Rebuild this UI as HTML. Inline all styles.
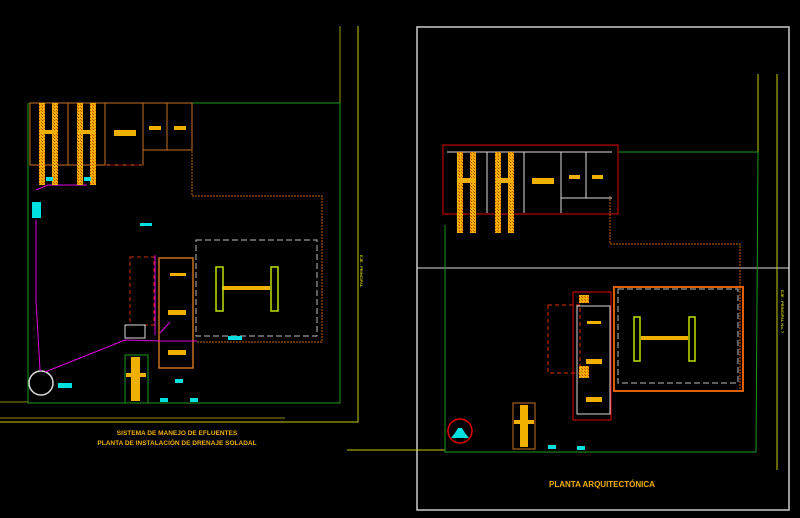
<!DOCTYPE html>
<html><head><meta charset="utf-8"><style>
html,body{margin:0;padding:0;background:#000;width:800px;height:518px;overflow:hidden}
svg{display:block}
text{font-family:"Liberation Sans",sans-serif;font-weight:bold}
</style></head><body>
<svg width="800" height="518" viewBox="0 0 800 518" xmlns="http://www.w3.org/2000/svg">
<defs>
<pattern id="hat" width="3" height="3" patternUnits="userSpaceOnUse">
<rect width="3" height="3" fill="#f0b000"/><rect width="1" height="1" fill="#c84000"/><rect x="2" y="2" width="1" height="1" fill="#d06000"/>
</pattern>
</defs>
<rect width="800" height="518" fill="#000"/>
<!-- LEFT DRAWING -->
<g fill="none" stroke-width="1">
<polyline points="340,26 340,103" stroke="#9a9a00"/>
<polyline points="358,26 358,422 0,422" stroke="#c8c800"/>
<polyline points="0,402 28,402" stroke="#8a8a00"/>
<polyline points="0,418 285,418" stroke="#8a8a00"/>
<polyline points="29,103 340,103 340,403 28,403 28,103" stroke="#1a9a1a"/>
<polyline points="192,103 192,196 322,196 322,342 197,342" stroke="#c86400" stroke-dasharray="2,1"/>
<rect x="196" y="240" width="121" height="96" stroke="#bbb" stroke-dasharray="6,3"/>
<rect x="105" y="103" width="38" height="62" stroke="#c87020"/>
<rect x="143" y="103" width="24" height="47" stroke="#c87020"/>
<rect x="167" y="103" width="25" height="47" stroke="#c87020"/>
<line x1="30" y1="165" x2="143" y2="165" stroke="#a00000" stroke-dasharray="5,3"/>
<rect x="30" y="103" width="38" height="62" stroke="#c87020"/>
<rect x="68" y="103" width="37" height="62" stroke="#c87020"/>
<rect x="130" y="257" width="24" height="68" stroke="#c83000" stroke-dasharray="4,3"/>
<rect x="159" y="258" width="34" height="110" stroke="#c87020" stroke-width="1.5"/>
<rect x="125" y="355" width="23" height="48" stroke="#1a9a1a"/>
<circle cx="41" cy="383" r="12" stroke="#ddd" stroke-width="1.5"/>
<polyline points="36,190 48,185 87,185" stroke="#e000e0"/>
<polyline points="36,220 36,300 40,370 41,371" stroke="#e000e0"/>
<polyline points="45,372 125,340 160,341 197,341" stroke="#e000e0"/>
<polyline points="155,335 155,255" stroke="#e000e0"/>
<line x1="170" y1="322" x2="160" y2="333" stroke="#e000e0"/>
</g>
<g fill="url(#hat)">
<rect x="39" y="103" width="6" height="82"/><rect x="52" y="103" width="6" height="82"/>
<rect x="77" y="103" width="6" height="82"/><rect x="90" y="103" width="6" height="82"/>
</g>
<g fill="#f0b000">
<rect x="40" y="130" width="17" height="4"/><rect x="78" y="130" width="17" height="4"/>
<rect x="114" y="130" width="22" height="6"/><rect x="149" y="126" width="12" height="4"/><rect x="174" y="126" width="12" height="4"/>
<rect x="170" y="273" width="16" height="3"/><rect x="168" y="310" width="18" height="5"/><rect x="168" y="350" width="18" height="5"/>
<rect x="222" y="286" width="48" height="4"/>
<rect x="131" y="357" width="9" height="44"/><rect x="126" y="373" width="20" height="4"/>
</g>
<g fill="none" stroke="#c0e000" stroke-width="1.5">
<rect x="216" y="267" width="7" height="44"/><rect x="271" y="267" width="7" height="44"/>
</g>
<g fill="#00e0e0">
<rect x="32" y="202" width="9" height="16"/><rect x="46" y="177" width="7" height="4"/><rect x="84" y="177" width="7" height="4"/>
<rect x="125" y="325" width="20" height="13" fill="none" stroke="#ddd"/>
<rect x="228" y="336" width="14" height="4"/><rect x="58" y="383" width="14" height="5"/>
<rect x="140" y="223" width="12" height="3"/><rect x="175" y="379" width="8" height="4"/>
<rect x="190" y="398" width="8" height="4"/><rect x="160" y="398" width="8" height="4"/>
</g>
<text x="177" y="435" fill="#f0b000" font-size="6.5" text-anchor="middle">SISTEMA DE MANEJO DE EFLUENTES</text>
<text x="177" y="445" fill="#f0b000" font-size="6.5" text-anchor="middle">PLANTA DE INSTALACIÓN DE DRENAJE SOLADAL</text>
<text x="360" y="255" fill="#c8c800" font-size="4" transform="rotate(90 360 255)">EJE - PRINCIPAL</text>

<!-- RIGHT DRAWING -->
<g fill="none">
<rect x="417" y="27" width="372" height="483" stroke="#ccc" stroke-width="1.5"/>
<line x1="417" y1="268" x2="789" y2="268" stroke="#ddd"/>
<line x1="758" y1="74" x2="758" y2="152" stroke="#c8c800"/>
<line x1="777" y1="74" x2="777" y2="470" stroke="#c8c800"/>
<line x1="347" y1="450" x2="445" y2="450" stroke="#c8c800"/>
<polyline points="618,152 758,152 756,452 445,452 445,225" stroke="#1a9a1a"/>
<polyline points="610,196 610,244 740,244 740,390" stroke="#c86400" stroke-dasharray="2,1"/>
<rect x="443" y="145" width="175" height="69" stroke="#e00000"/>
<line x1="447" y1="152" x2="612" y2="152" stroke="#ddd"/>
<line x1="487" y1="152" x2="487" y2="213" stroke="#ddd"/>
<line x1="524" y1="152" x2="524" y2="213" stroke="#ddd"/>
<line x1="561" y1="152" x2="561" y2="213" stroke="#ddd"/>
<line x1="586" y1="152" x2="586" y2="198" stroke="#ddd"/>
<line x1="561" y1="198" x2="612" y2="198" stroke="#ddd"/>
<rect x="614" y="287" width="129" height="104" stroke="#e06000" stroke-width="2"/>
<rect x="618" y="289" width="120" height="94" stroke="#bbb" stroke-dasharray="6,3"/>
<rect x="548" y="305" width="32" height="68" stroke="#e03000" stroke-dasharray="4,3"/>
<rect x="577" y="306" width="33" height="108" stroke="#ddd"/>
<rect x="573" y="292" width="38" height="128" stroke="#e00000"/>
<rect x="513" y="403" width="22" height="46" stroke="#c87020"/>
<circle cx="460" cy="431" r="12" stroke="#e00000" stroke-width="1.5"/>
</g>
<g fill="url(#hat)">
<rect x="457" y="152" width="6" height="81"/><rect x="470" y="152" width="6" height="81"/>
<rect x="495" y="152" width="6" height="81"/><rect x="508" y="152" width="6" height="81"/>
<rect x="579" y="295" width="10" height="8"/><rect x="579" y="366" width="10" height="12"/>
</g>
<g fill="#f0b000">
<rect x="458" y="178" width="17" height="5"/><rect x="496" y="178" width="17" height="5"/>
<rect x="532" y="178" width="22" height="6"/><rect x="569" y="175" width="11" height="4"/><rect x="592" y="175" width="11" height="4"/>
<rect x="641" y="336" width="47" height="4"/>
<rect x="587" y="321" width="14" height="3"/><rect x="586" y="359" width="16" height="5"/><rect x="586" y="397" width="16" height="5"/>
<rect x="520" y="405" width="8" height="42"/><rect x="514" y="420" width="20" height="4"/>
</g>
<g fill="none" stroke="#c0e000" stroke-width="1.5">
<rect x="634" y="317" width="6" height="44"/><rect x="689" y="317" width="6" height="44"/>
</g>
<g fill="#00e0e0">
<polygon points="451,438 469,438 465,433 462,428 458,428 455,433"/>
<rect x="548" y="445" width="8" height="4"/><rect x="577" y="446" width="8" height="4"/>
</g>
<text x="602" y="487" fill="#f0b000" font-size="8" text-anchor="middle">PLANTA ARQUITECTÓNICA</text>
<text x="781" y="290" fill="#c8c800" font-size="4" transform="rotate(90 781 290)">EJE - PRINCIPAL No. 7</text>
</svg>
</body></html>
